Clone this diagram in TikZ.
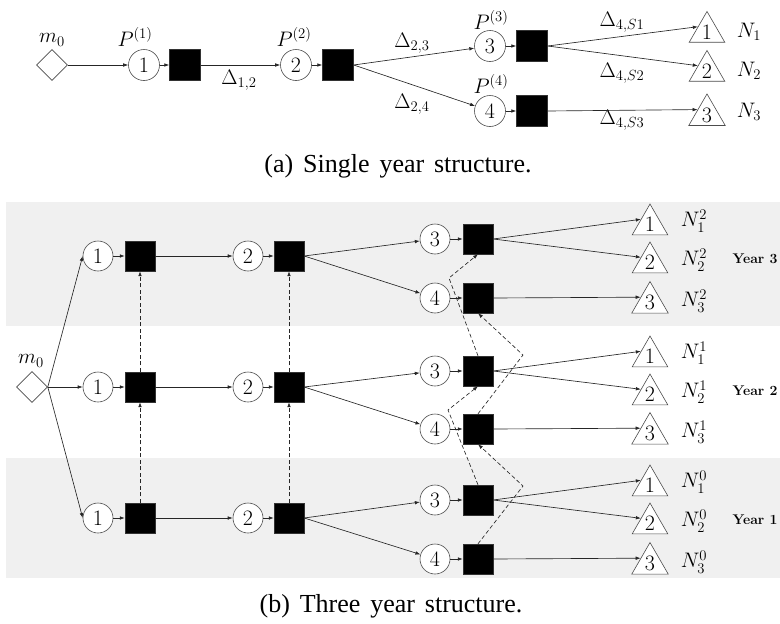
\RequirePackage{fix-cm}
\documentclass[tikz,border=0pt]{standalone}
\usepackage{fontspec}
\newfontfamily\capfont{Liberation Serif}
\usetikzlibrary{shapes.geometric,arrows.meta}

\begin{document}
\begin{tikzpicture}[x=1pt,y=-1pt,
  conn/.style={line width=0.65pt, draw=black!85},
  arr/.style={conn, -{Latex[length=5pt,width=3.6pt]}},
  dasharr/.style={arr, dash pattern=on 4pt off 2.5pt},
  stage/.style={circle, draw=black!70, line width=0.6pt, fill=white, inner sep=0pt,
    minimum size=#1, font=\fontsize{22}{24}\selectfont},
  decbox/.style={rectangle, draw=black!80, fill=black, inner sep=0pt, minimum size=#1},
  origin/.style={diamond, draw=black!70, line width=0.6pt, fill=white, inner sep=0pt,
    minimum width=31pt, minimum height=31pt},
  leaf/.style={regular polygon, regular polygon sides=3, draw=black!70, line width=0.6pt,
    fill=white, inner sep=0pt, minimum size=39pt, font=\fontsize{22}{24}\selectfont},
  lab/.style={inner sep=0pt, font=\fontsize{21}{24}\selectfont},
  yearlab/.style={inner sep=0pt, font=\fontsize{14}{16}\selectfont\bfseries},
  caption/.style={inner sep=0pt, font={\capfont\fontsize{26}{30}\selectfont\spaceskip=0.38em\relax}},
  band/.style={fill=black!6}
]
\useasboundingbox (0,0) rectangle (780,624);

% ---------- (a) single year ----------
\node[origin] (m0a) at (52,65) {};
\node[lab] (m0alab) at (52,40) {$m_0$};
\node[stage=31] (a1) at (144,65) {1};
\node[decbox=31] (as1) at (185,65) {};
\node[stage=31] (a2) at (296,65) {2};
\node[decbox=31] (as2) at (338,65) {};
\node[stage=31] (a3) at (490,46) {3};
\node[decbox=31] (as3) at (532,46) {};
\node[stage=31] (a4) at (490,111) {4};
\node[decbox=31] (as4) at (532,111) {};
\node[leaf] (at1) at (707,32) {1};
\node[leaf] (at2) at (707,71) {2};
\node[leaf] (at3) at (707,115) {3};

\node[lab] (p1) at (135,37) {$P^{(1)}$};
\node[lab] (p2) at (294,37) {$P^{(2)}$};
\node[lab] (p3) at (491,20) {$P^{(3)}$};
\node[lab] (p4) at (491,84) {$P^{(4)}$};
\node[lab] (d12) at (239,80) {$\Delta_{1,2}$};
\node[lab] (d23) at (412,43) {$\Delta_{2,3}$};
\node[lab] (d24) at (412,104) {$\Delta_{2,4}$};
\node[lab] (d4s1) at (622,22) {$\Delta_{4,S1}$};
\node[lab] (d4s2) at (622,73) {$\Delta_{4,S2}$};
\node[lab] (d4s3) at (622,120) {$\Delta_{4,S3}$};
\node[lab] (na1) at (749,32) {$N_1$};
\node[lab] (na2) at (749,71) {$N_2$};
\node[lab] (na3) at (749,112) {$N_3$};

\draw[arr] (m0a.east) -- (a1.west);
\draw[arr] (a1) -- (as1);
\draw[arr] (as1) -- (a2);
\draw[arr] (a2) -- (as2);
\draw[arr] (as2.east) -- (a3);
\draw[arr] (as2.east) -- (a4);
\draw[arr] (a3) -- (as3);
\draw[arr] (a4) -- (as4);
\draw[arr] (as3.east) -- (at1.side 1);
\draw[arr] (as3.east) -- (at2.side 1);
\draw[arr] (as4.east) -- (at3.side 1);

\node[caption] (capa) at (398,166) {(a) Single year structure.};

% ---------- (b) three years ----------
\fill[band] (6,202) rectangle (780,326);
\fill[band] (6,458) rectangle (780,578);

\node[origin] (m0b) at (32,387) {};
\node[lab] (m0blab) at (31,361) {$m_0$};

\foreach \yr/\ry/\rt/\rf/\expo in {1/518/500/559/0, 2/387/371/429/1, 3/256/239/298/2}{
  \node[stage=30] (c1-\yr) at (98,\ry) {1};
  \node[decbox=30] (s1-\yr) at (140,\ry) {};
  \node[stage=30] (c2-\yr) at (248,\ry) {2};
  \node[decbox=30] (s2-\yr) at (289,\ry) {};
  \node[stage=30] (c3-\yr) at (435,\rt) {3};
  \node[decbox=30] (s3-\yr) at (478,\rt) {};
  \node[stage=30] (c4-\yr) at (435,\rf) {4};
  \node[decbox=30] (s4-\yr) at (478,\rf) {};
  \node[leaf] (t1-\yr) at (650,{\rt-14.4}) {1};
  \node[leaf] (t2-\yr) at (650,{\rt+23.6}) {2};
  \node[leaf] (t3-\yr) at (650,{\rf+4.6}) {3};
  \node[lab] (n1-\yr) at (694,{\rt-18}) {$N_1^{\expo}$};
  \node[lab] (n2-\yr) at (694,{\rt+21}) {$N_2^{\expo}$};
  \node[lab] (n3-\yr) at (694,{\rf+3}) {$N_3^{\expo}$};
  \node[yearlab] (yr-\yr) at (755,{\rt+20}) {Year \yr};

  \draw[arr] (m0b.east) -- (c1-\yr.west);
  \draw[arr] (c1-\yr) -- (s1-\yr);
  \draw[arr] (s1-\yr) -- (c2-\yr);
  \draw[arr] (c2-\yr) -- (s2-\yr);
  \draw[arr] (s2-\yr.east) -- (c3-\yr);
  \draw[arr] (s2-\yr.east) -- (c4-\yr);
  \draw[arr] (c3-\yr) -- (s3-\yr);
  \draw[arr] (c4-\yr) -- (s4-\yr);
  \draw[arr] (s3-\yr.east) -- (t1-\yr.side 1);
  \draw[arr] (s3-\yr.east) -- (t2-\yr.side 1);
  \draw[arr] (s4-\yr.east) -- (t3-\yr.side 1);
}

% links between consecutive years
\draw[dasharr] (s1-1) -- (s1-2);
\draw[dasharr] (s1-2) -- (s1-3);
\draw[dasharr] (s2-1) -- (s2-2);
\draw[dasharr] (s2-2) -- (s2-3);

\coordinate (k3a) at (449,278);
\coordinate (k4a) at (523,355);
\coordinate (k3b) at (448,410);
\coordinate (k4b) at (523,486);
\draw[dasharr] (s3-2.north) -- (k3a) -- (s3-3.south);
\draw[dasharr] (s4-2.north) -- (k4a) -- (s4-3.south);
\draw[dasharr] (s3-1.north) -- (k3b) -- (s3-2.south);
\draw[dasharr] (s4-1.north) -- (k4b) -- (s4-2.south);

\node[caption] (capb) at (391,606) {(b) Three year structure.};
\end{tikzpicture}
\end{document}
